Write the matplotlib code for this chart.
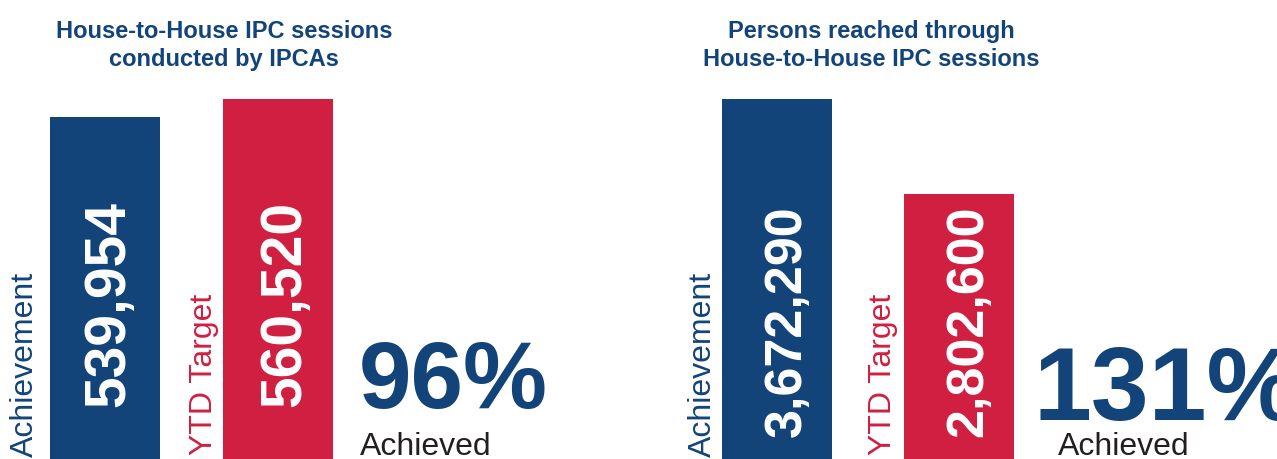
import matplotlib
matplotlib.use("Agg")
import matplotlib.pyplot as plt

# ------------------------------------------
# DATOS
# ------------------------------------------
titles = ["House-to-House IPC sessions\nconducted by IPCAs",
          "Persons reached through\nHouse-to-House IPC sessions"]
achievement = [539954, 3672290]
ytd_target = [560520, 2802600]
percent_labels = ["96%", "131%"]

BLUE = "#124479"
RED = "#D01F41"
DARK = "#231F20"

W, H = 1277, 459
plt.rcParams["font.family"] = ["Liberation Sans", "DejaVu Sans"]

fig = plt.figure(figsize=(W / 100, H / 100), dpi=100)


def px(x, y):
    # pixel (desde arriba-izquierda) -> fraccion de figura
    return x / W, 1 - y / H


# ------------------------------------------
# LAYOUT DE CADA PANEL
# ------------------------------------------
panels = [
    dict(left=50, right=333, width=0.636, ylo=149200,
         title_x=224, num_size=41, num_start=407, num_base=[124, 300],
         lab_base=[33, 212], pct_xy=(359, 408), pct_size=68,
         ach_xy=(360, 455)),
    dict(left=722, right=1014, width=0.604, ylo=376600,
         title_x=871, num_size=37.5, num_start=437, num_base=[801, 982],
         lab_base=[711, 891], pct_xy=(1033, 420), pct_size=75,
         ach_xy=(1058, 455)),
]

for i, p in enumerate(panels):
    x0, _ = px(p["left"], 0)
    x1, _ = px(p["right"], 0)
    _, y0 = px(0, 459)
    _, y1 = px(0, 99)
    ax = fig.add_axes([x0, y0, x1 - x0, y1 - y0])
    vals = [achievement[i], ytd_target[i]]
    ax.bar([0, 1], vals, width=p["width"], color=[BLUE, RED])
    ax.set_xlim(-p["width"] / 2, 1 + p["width"] / 2)
    ax.set_ylim(p["ylo"], max(vals))
    ax.axis("off")

    # titulo (baseline de la ultima linea)
    tx, ty = px(p["title_x"], 66)
    fig.text(tx, ty, titles[i], ha="center", va="baseline", fontsize=17,
             fontweight="bold", color=BLUE, linespacing=1.25)

    # numeros dentro de las barras
    for j, v in enumerate(vals):
        nx, ny = px(p["num_base"][j], p["num_start"])
        fig.text(nx, ny, f"{v:,}", rotation=90, rotation_mode="anchor",
                 ha="left", va="baseline", fontsize=p["num_size"],
                 fontweight="bold", color="white")

    # etiquetas verticales
    lx, ly = px(p["lab_base"][0], 457)
    fig.text(lx, ly, "Achievement", rotation=90, rotation_mode="anchor",
             ha="left", va="baseline", fontsize=23, color=BLUE)
    lx, ly = px(p["lab_base"][1], 455)
    fig.text(lx, ly, "YTD Target", rotation=90, rotation_mode="anchor",
             ha="left", va="baseline", fontsize=23, color=RED)

    # porcentaje
    qx, qy = px(*p["pct_xy"])
    fig.text(qx, qy, percent_labels[i], ha="left", va="baseline",
             fontsize=p["pct_size"], fontweight="bold", color=BLUE)
    ax_, ay_ = px(*p["ach_xy"])
    fig.text(ax_, ay_, "Achieved", ha="left", va="baseline", fontsize=23,
             color=DARK)

fig.savefig("out.png", dpi=100)
plt.close(fig)
